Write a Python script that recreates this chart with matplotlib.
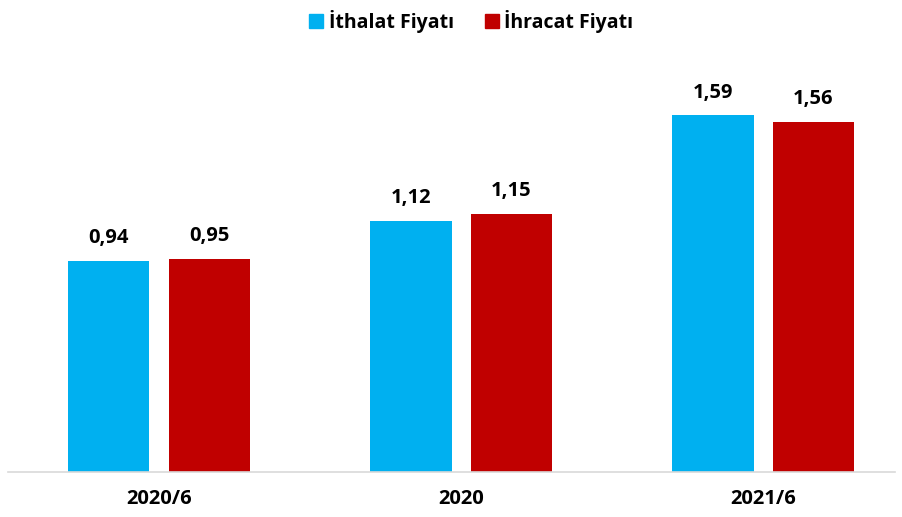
import numpy as np
import matplotlib.pyplot as plt
from matplotlib.patches import Patch

categories = ['2020/6', '2020', '2021/6']
ithalat = [0.94, 1.12, 1.59]
ihracat = [0.95, 1.15, 1.56]
labels_ith = ['0,94', '1,12', '1,59']
labels_ihr = ['0,95', '1,15', '1,56']

blue = '#00B0F0'
red = '#C00000'

plt.rcParams['font.family'] = ['Open Sans', 'DejaVu Sans']

fig = plt.figure(figsize=(9.03, 5.17), dpi=100)
ax = fig.add_axes([8/903, 1-472/517, 887/903, 432/517])

x = np.arange(len(categories))
w = 0.27
off = 0.1665
b1 = ax.bar(x - off, ithalat, w, color=blue)
b2 = ax.bar(x + off, ihracat, w, color=red)

for rect, lab in zip(b1, labels_ith):
    ax.annotate(lab, (rect.get_x() + rect.get_width()/2, rect.get_height()),
                xytext=(0, 9), textcoords='offset points', ha='center', va='bottom',
                fontsize=14.5, fontweight='bold')
for rect, lab in zip(b2, labels_ihr):
    ax.annotate(lab, (rect.get_x() + rect.get_width()/2, rect.get_height()),
                xytext=(0, 9), textcoords='offset points', ha='center', va='bottom',
                fontsize=14.5, fontweight='bold')

ax.set_xlim(-0.5, 2.437)
ax.set_ylim(0, 432/224.5)
ax.set_xticks(x)
ax.set_xticklabels(categories, fontsize=14.5, fontweight='bold')
ax.tick_params(axis='x', length=0, pad=12)
ax.set_yticks([])
for s in ['top', 'right', 'left']:
    ax.spines[s].set_visible(False)
ax.spines['bottom'].set_color('#D9D9D9')
ax.spines['bottom'].set_linewidth(1.2)

handles = [Patch(color=blue, label='İthalat Fiyatı'), Patch(color=red, label='İhracat Fiyatı')]
leg = fig.legend(handles=handles, loc='upper center', bbox_to_anchor=(0.522, 1.015), ncol=2,
                 frameon=False, handlelength=0.7, handleheight=0.7, handletextpad=0.3,
                 columnspacing=1.6, prop={'size': 14, 'weight': 'bold'})

fig.savefig('out.png', dpi=100)
